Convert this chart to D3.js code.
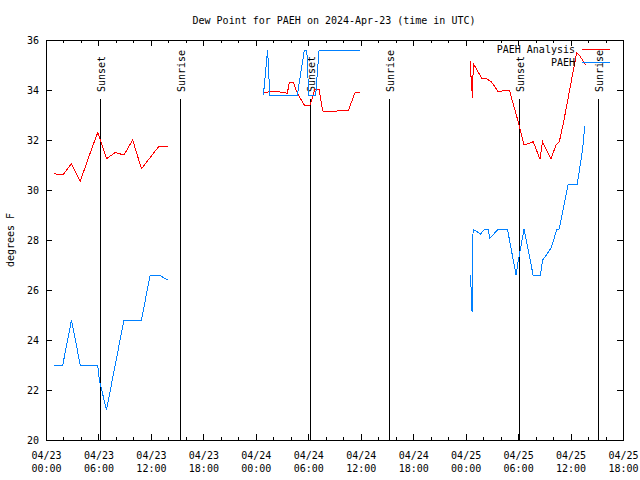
<!DOCTYPE html>
<html>
<head>
<meta charset="utf-8">
<script src="https://cdn.jsdelivr.net/npm/d3@7"></script>
<style>
  html, body { margin: 0; padding: 0; background: #fff; }
  svg text { font-family: "DejaVu Sans Mono", monospace; font-size: 10px; fill: #000; }
</style>
</head>
<body>
<svg id="chart" width="640" height="480"></svg>
<script>
// ---------------- data ----------------
const titleText = "Dew Point for PAEH on 2024-Apr-23 (time in UTC)";
const yLabel = "degrees F";
const yTicks = [20, 22, 24, 26, 28, 30, 32, 34, 36];

// PAEH Analysis (red)
const analysisTimes = [
  "2024-04-23T00:55","2024-04-23T01:55","2024-04-23T02:55","2024-04-23T03:55","2024-04-23T04:55",
  "2024-04-23T05:55","2024-04-23T06:55","2024-04-23T07:55","2024-04-23T08:55","2024-04-23T09:55",
  "2024-04-23T10:55","2024-04-23T11:55","2024-04-23T12:55","2024-04-23T13:55",
  "2024-04-24T00:49","2024-04-24T01:37","2024-04-24T02:36","2024-04-24T03:36","2024-04-24T03:50",
  "2024-04-24T04:18","2024-04-24T04:45","2024-04-24T05:33","2024-04-24T06:12","2024-04-24T06:46",
  "2024-04-24T07:14","2024-04-24T07:39","2024-04-24T08:52","2024-04-24T09:45","2024-04-24T10:36",
  "2024-04-24T11:21","2024-04-24T11:54",
  "2024-04-25T00:30","2024-04-25T00:42","2024-04-25T00:48","2024-04-25T00:52","2024-04-25T01:50",
  "2024-04-25T02:20","2024-04-25T02:59","2024-04-25T03:44","2024-04-25T04:42","2024-04-25T05:00",
  "2024-04-25T06:07","2024-04-25T06:40","2024-04-25T07:44","2024-04-25T08:30","2024-04-25T08:48",
  "2024-04-25T09:46","2024-04-25T10:20","2024-04-25T10:43","2024-04-25T11:15","2024-04-25T12:42",
  "2024-04-25T13:00","2024-04-25T13:44"
];
const analysisValues = [
  30.65, 30.6, 31.05, 30.35, 31.35,
  32.3, 31.25, 31.5, 31.4, 32.0,
  30.85, 31.3, 31.75, 31.75,
  33.9, 33.93, 33.93, 33.87, 34.29,
  34.29, 33.87, 33.4, 33.4, 34.03,
  34.03, 33.16, 33.13, 33.2, 33.2,
  33.9, 33.9,
  35.17, 34.07, 33.67, 35.07, 34.47,
  34.47, 34.31, 33.93, 34.0, 34.0,
  32.6, 31.8, 31.93, 31.24, 31.93,
  31.24, 31.8, 31.93, 32.8, 35.49,
  35.4, 35.0
];

// PAEH observations (blue)
const obsTimes = [
  "2024-04-23T00:55","2024-04-23T01:55","2024-04-23T02:55","2024-04-23T03:55","2024-04-23T04:55",
  "2024-04-23T05:55","2024-04-23T06:06","2024-04-23T06:55","2024-04-23T07:55","2024-04-23T08:55",
  "2024-04-23T09:55","2024-04-23T10:55","2024-04-23T11:55","2024-04-23T12:55","2024-04-23T13:55",
  "2024-04-24T00:52","2024-04-24T01:21","2024-04-24T01:36","2024-04-24T04:45","2024-04-24T05:33",
  "2024-04-24T05:50","2024-04-24T06:03","2024-04-24T06:51","2024-04-24T07:14","2024-04-24T11:54",
  "2024-04-25T00:30","2024-04-25T00:36","2024-04-25T00:41","2024-04-25T00:44","2024-04-25T00:51",
  "2024-04-25T01:42","2024-04-25T02:11","2024-04-25T02:34","2024-04-25T02:46","2024-04-25T03:43",
  "2024-04-25T04:47","2024-04-25T05:46","2024-04-25T06:00","2024-04-25T06:41","2024-04-25T07:43",
  "2024-04-25T08:34","2024-04-25T08:48","2024-04-25T09:10","2024-04-25T09:49","2024-04-25T10:24",
  "2024-04-25T10:42","2024-04-25T11:44","2024-04-25T12:46","2024-04-25T13:22","2024-04-25T13:38"
];
const obsValues = [
  23.0, 23.0, 24.8, 23.0, 23.0,
  23.0, 22.4, 21.2, 23.0, 24.8,
  24.8, 24.8, 26.6, 26.6, 26.4,
  33.8, 35.6, 33.8, 33.8, 35.6,
  35.6, 33.8, 33.8, 35.6, 35.6,
  26.6, 26.27, 25.5, 25.13, 28.43,
  28.24, 28.43, 28.43, 28.07, 28.43,
  28.43, 26.6, 27.13, 28.43, 26.6,
  26.6, 27.2, 27.36, 27.71, 28.4,
  28.45, 30.24, 30.24, 31.6, 32.56
];

const sunEventTimes = ["2024-04-23T06:11","2024-04-23T15:20","2024-04-24T06:12","2024-04-24T15:14","2024-04-25T06:06","2024-04-25T15:09"];
const sunEventLabels = ["Sunset","Sunrise","Sunset","Sunrise","Sunset","Sunrise"];

const seriesNames = ["PAEH Analysis", "PAEH"];
const seriesColors = ["#ff0000", "#0080ff"];

// ---------------- drawing ----------------
const parse = s => new Date(s + ":00Z");
const svg = d3.select("#chart");
const L = 46, R = 623, T = 40, B = 440;

const x = d3.scaleUtc()
  .domain([parse("2024-04-23T00:00"), parse("2024-04-25T18:00")])
  .range([L, R]);
const y = d3.scaleLinear().domain([20, 36]).range([B, T]);

// title
svg.append("text").attr("x", 334).attr("y", 24).attr("text-anchor", "middle").text(titleText);

// y label
svg.append("text")
  .attr("transform", "translate(14," + ((T + B) / 2) + ") rotate(-90)")
  .attr("text-anchor", "middle").text(yLabel);

const g = svg.append("g").attr("shape-rendering", "crispEdges");

// minor x ticks (every 2 h)
g.append("g").attr("transform", `translate(0,${B})`)
  .call(d3.axisBottom(x).ticks(d3.utcHour.every(2)).tickSize(-3).tickFormat(""))
  .call(a => a.select(".domain").remove());
g.append("g").attr("transform", `translate(0,${T})`)
  .call(d3.axisTop(x).ticks(d3.utcHour.every(2)).tickSize(-3).tickFormat(""))
  .call(a => a.select(".domain").remove());

// major x ticks
const bottom = g.append("g").attr("transform", `translate(0,${B})`)
  .call(d3.axisBottom(x).ticks(d3.utcHour.every(6)).tickSize(-6).tickPadding(8).tickFormat(""))
  .call(a => a.select(".domain").remove());
bottom.selectAll(".tick text").each(function(d) {
  const t = d3.select(this).attr("dy", null).attr("y", 19).attr("fill", "#000");
  t.append("tspan").attr("x", 0).attr("y", 19).text(d3.utcFormat("%m/%d")(d));
  t.append("tspan").attr("x", 0).attr("y", 32).text(d3.utcFormat("%H:%M")(d));
});
bottom.selectAll(".tick text").style("font-family", '"DejaVu Sans Mono", monospace').style("font-size", "10px");

g.append("g").attr("transform", `translate(0,${T})`)
  .call(d3.axisTop(x).ticks(d3.utcHour.every(6)).tickSize(-6).tickFormat(""))
  .call(a => a.select(".domain").remove());

// y axes
const left = g.append("g").attr("transform", `translate(${L},0)`)
  .call(d3.axisLeft(y).tickValues(yTicks).tickSize(-6).tickPadding(7).tickFormat(d3.format("d")))
  .call(a => a.select(".domain").remove());
left.selectAll(".tick text").attr("fill", "#000")
  .style("font-family", '"DejaVu Sans Mono", monospace').style("font-size", "10px");
g.append("g").attr("transform", `translate(${R},0)`)
  .call(d3.axisRight(y).tickValues(yTicks).tickSize(-6).tickFormat(""))
  .call(a => a.select(".domain").remove());

// sun event lines
sunEventTimes.forEach((s, i) => {
  const xp = Math.round(x(parse(s))) + 0.5;
  g.append("line").attr("x1", xp).attr("x2", xp).attr("y1", 99).attr("y2", B)
    .attr("stroke", "#000").attr("stroke-width", 1);
  svg.append("text")
    .attr("transform", `translate(${xp + 4},92) rotate(-90)`)
    .attr("text-anchor", "start").text(sunEventLabels[i]);
});

// series
function drawSeries(times, values, color) {
  const pts = times.map((t, i) => ({ t: parse(t), v: values[i] }));
  const line = d3.line().x(d => x(d.t)).y(d => y(d.v));
  // split at data gaps longer than 8 hours
  let segs = [[pts[0]]];
  for (let i = 1; i < pts.length; i++) {
    if (pts[i].t - pts[i - 1].t > 8 * 3600e3) segs.push([]);
    segs[segs.length - 1].push(pts[i]);
  }
  segs.forEach(seg => {
    svg.append("path").attr("d", line(seg)).attr("fill", "none")
      .attr("stroke", color).attr("stroke-width", 1).attr("shape-rendering", "crispEdges");
  });
}
drawSeries(analysisTimes, analysisValues, seriesColors[0]);
drawSeries(obsTimes, obsValues, seriesColors[1]);

// border
g.append("rect").attr("x", L + 0.5).attr("y", T + 0.5).attr("width", R - L).attr("height", B - T)
  .attr("fill", "none").attr("stroke", "#000").attr("stroke-width", 1);

// legend
seriesNames.forEach((name, i) => {
  const ly = 49 + i * 13;
  svg.append("text").attr("x", 575).attr("y", ly + 4).attr("text-anchor", "end").text(name);
  svg.append("line").attr("x1", 582).attr("x2", 610).attr("y1", ly + 0.5).attr("y2", ly + 0.5)
    .attr("stroke", seriesColors[i]).attr("stroke-width", 1).attr("shape-rendering", "crispEdges");
});
</script>
</body>
</html>
